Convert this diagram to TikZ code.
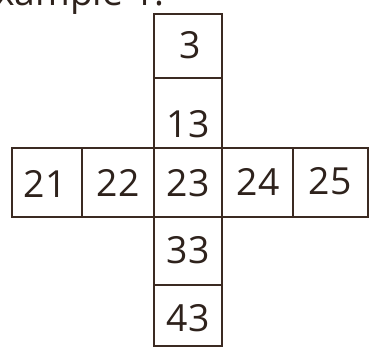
\documentclass[tikz,border=0pt]{standalone}
\usepackage{fontspec}
\setmainfont{Open Sans}
\definecolor{ink}{HTML}{2E221C}
\definecolor{rule}{HTML}{3B2A22}
\begin{document}
\begin{tikzpicture}[x=0.75pt,y=-0.75pt,
  cell/.style={draw=rule, line width=1.5pt, rectangle, inner sep=0pt},
  lbl/.style={text=ink, font=\fontsize{28}{28}\selectfont, inner sep=0pt},
  head/.style={text=ink, font=\fontsize{28}{28}\selectfont, inner sep=0pt, anchor=base west}]
\clip (0,0) rectangle (382,361);
\useasboundingbox (0,0) rectangle (382,361);
\fill[white] (0,0) rectangle (382,361);
% header text, cut off at the top
\node[head] (hd) at (-26,5) {Example 1:};
% column
\node[cell, minimum width=68*0.75pt, minimum height=64*0.75pt] (c3) at (188,46) {};
\node[cell, minimum width=68*0.75pt, minimum height=70*0.75pt] (c13) at (188,113) {};
\node[cell, minimum width=68*0.75pt, minimum height=69*0.75pt] (c23) at (188,182.5) {};
\node[cell, minimum width=68*0.75pt, minimum height=68*0.75pt] (c33) at (188,251) {};
\node[cell, minimum width=68*0.75pt, minimum height=61*0.75pt] (c43) at (188,315.5) {};
% row
\node[cell, minimum width=70*0.75pt, minimum height=69*0.75pt] (c21) at (47,182.5) {};
\node[cell, minimum width=72*0.75pt, minimum height=69*0.75pt] (c22) at (118,182.5) {};
\node[cell, minimum width=71*0.75pt, minimum height=69*0.75pt] (c24) at (257.5,182.5) {};
\node[cell, minimum width=75*0.75pt, minimum height=69*0.75pt] (c25) at (330.5,182.5) {};
% labels
\node[lbl] (l3) at (190,45) {3};
\node[lbl] (l13) at (188,124) {13};
\node[lbl] (l23) at (188,183) {23};
\node[lbl] (l33) at (188,250) {33};
\node[lbl] (l43) at (188,318) {43};
\node[lbl] (l21) at (45,184) {21};
\node[lbl] (l22) at (118,183) {22};
\node[lbl] (l24) at (258,182) {24};
\node[lbl] (l25) at (330,181) {25};
\end{tikzpicture}
\end{document}
